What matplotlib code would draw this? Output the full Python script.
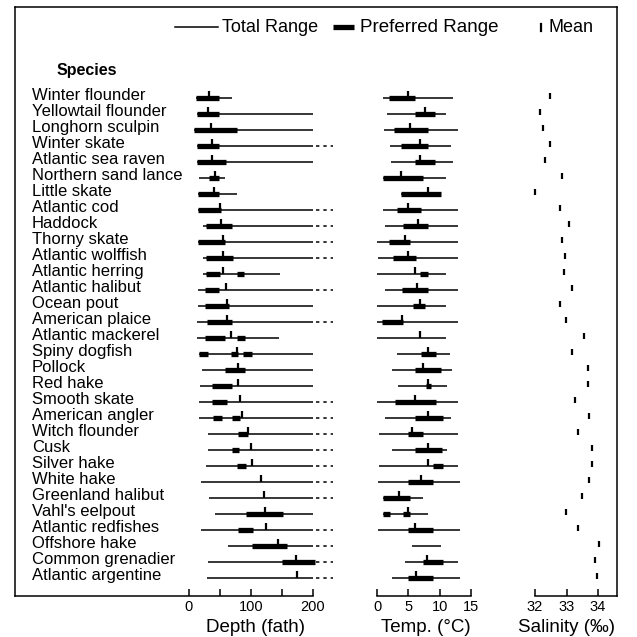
import matplotlib
matplotlib.use('Agg')
import matplotlib.pyplot as plt
import numpy as np
from matplotlib.transforms import blended_transform_factory
from matplotlib.lines import Line2D

plt.rcParams['font.family'] = ['Liberation Sans', 'DejaVu Sans']

# ---------------- data ----------------
species = ["Winter flounder", "Yellowtail flounder", "Longhorn sculpin", "Winter skate",
           "Atlantic sea raven", "Northern sand lance", "Little skate", "Atlantic cod",
           "Haddock", "Thorny skate", "Atlantic wolffish", "Atlantic herring",
           "Atlantic halibut", "Ocean pout", "American plaice", "Atlantic mackerel",
           "Spiny dogfish", "Pollock", "Red hake", "Smooth skate", "American angler",
           "Witch flounder", "Cusk", "Silver hake", "White hake", "Greenland halibut",
           "Vahl's eelpout", "Atlantic redfishes", "Offshore hake", "Common grenadier",
           "Atlantic argentine"]

# Depth (fathoms)
depth_min = [11, 13, 8, 13, 13, 16, 14, 14, 23, 14, 23, 23, 14, 14, 13, 13,
             16, 21, 18, 16, 16, 31, 31, 27, 19, 32, 42, 19, 63, 31, 29]
depth_max = [69, 200, 200, 200, 200, 58, 77, 200, 200, 200, 200, 147, 200, 200, 200, 145,
             200, 200, 200, 200, 200, 200, 200, 200, 200, 200, 200, 200, 200, 200, 200]
depth_beyond = [0, 0, 0, 1, 0, 0, 0, 1, 1, 1, 1, 0, 1, 0, 1, 0,
                0, 0, 0, 1, 1, 1, 1, 1, 1, 1, 0, 1, 1, 1, 1]
depth_mean = [32, 31, 35, 37, 37, 42, 40, 50, 51, 55, 55, 55, 60, 61, 61, 68,
              77, 79, 79, 82, 85, 95, 100, 102, 116, 121, 123, 124, 143, 172, 174]
depth_pref = [[(11, 48)], [(13, 48)], [(8, 78)], [(13, 48)], [(13, 60)], [(32, 48)],
              [(14, 48)], [(14, 51)], [(27, 70)], [(14, 58)], [(27, 71)],
              [(27, 50), (77, 89)], [(26, 48)], [(26, 65)], [(29, 69)],
              [(26, 58), (77, 90)], [(16, 31), (68, 79), (87, 101)], [(58, 90)],
              [(37, 69)], [(37, 61)], [(39, 53), (69, 82)], [(79, 95)], [(69, 81)],
              [(77, 92)], [], [], [(92, 152)], [(79, 103)], [(101, 158)],
              [(150, 203)], []]

# Temperature (deg C)
temp_min = [1.0, 1.6, 1.1, 2.1, 2.2, 1.0, 3.9, 1.0, 1.3, 0.0, 0.2, 0.0, 1.3, 0.0, 0.0, 0.0,
            3.2, 2.4, 3.4, 0.0, 1.3, 0.3, 2.4, 0.3, 0.2, 1.0, 1.0, 0.2, 5.6, 4.5, 2.4]
temp_max = [12.1, 11.0, 12.9, 11.8, 12.2, 11.0, 10.2, 13.0, 12.9, 12.9, 12.9, 11.0, 13.0,
            11.0, 12.9, 11.0, 11.6, 11.9, 11.1, 13.0, 11.8, 13.0, 11.1, 13.0, 13.2, 7.3,
            8.2, 13.2, 10.2, 13.0, 13.2]
temp_mean = [5.0, 7.6, 5.3, 6.8, 6.9, 3.9, 8.1, 5.0, 6.5, 4.4, 5.0, 6.1, 6.4, 6.8, 4.0, 6.8,
             8.2, 7.4, 8.2, 6.0, 8.2, 5.6, 8.2, 8.2, 7.1, 3.5, 5.0, 6.1, np.nan, 8.0, 6.3]
temp_pref = [[(1.9, 6.1)], [(6.1, 9.2)], [(2.7, 8.2)], [(3.9, 8.2)], [(6.0, 9.2)],
             [(1.0, 7.3)], [(3.9, 10.2)], [(3.2, 7.1)], [(4.2, 8.2)], [(1.9, 5.3)],
             [(2.6, 6.3)], [(6.9, 8.1)], [(4.0, 8.2)], [(5.8, 7.7)], [(0.8, 4.2)], [],
             [(7.1, 9.4)], [(6.1, 10.2)], [(7.8, 8.6)], [(2.9, 9.4)], [(6.1, 10.5)],
             [(5.0, 7.4)], [(6.0, 10.3)], [(9.0, 10.5)], [(5.0, 9.0)], [(1.0, 5.2)],
             [(1.0, 2.1), (4.2, 5.2)], [(5.0, 9.0)], [], [(7.3, 10.5)], [(5.0, 8.9)]]

# Salinity (per mille)
sal_mean = [32.48, 32.16, 32.25, 32.48, 32.32, 32.86, 32.0, 32.79, 33.08, 32.86, 32.95,
            32.92, 33.17, 32.79, 32.98, 33.56, 33.18, 33.67, 33.67, 33.27, 33.70, 33.37,
            33.81, 33.81, 33.70, 33.49, 32.98, 33.37, 34.03, 33.92, 33.98]

depth_ticks = [0, 100, 200]
depth_minor = [50, 150]
temp_ticks = [0, 5, 10, 15]
sal_ticks = [32, 33, 34]

# ---------------- layout ----------------
W = H = 637
fig = plt.figure(figsize=(6.37, 6.37), dpi=100)

def fx(x):
    return x / W

def fy(y):
    return 1 - y / H

Y_TOP, Y_BOT = 80, 596
rows = np.arange(len(species))
YLIM = ((Y_BOT - 98) / 16.0, (Y_TOP - 98) / 16.0)

def add_ax(x0, x1, xlim, bounds):
    ax = fig.add_axes([fx(x0), fy(Y_BOT), (x1 - x0) / W, (Y_BOT - Y_TOP) / H])
    ax.set_xlim(*xlim)
    ax.set_ylim(*YLIM)
    ax.patch.set_alpha(0)
    for s in ['top', 'left', 'right']:
        ax.spines[s].set_visible(False)
    ax.spines['bottom'].set_bounds(*bounds)
    ax.spines['bottom'].set_linewidth(1.1)
    ax.set_yticks([])
    ax.tick_params(axis='x', direction='in', length=5, width=1.1, pad=3,
                   labelsize=10.5)
    ax.tick_params(axis='x', which='minor', direction='in', length=5, width=1.1)
    return ax

ax_d = add_ax(15, 345, ((15 - 189) / 0.62, (345 - 189) / 0.62), ((15 - 189) / 0.62, 200))
ax_t = add_ax(377, 471, (0, 15), (0, 15))
ax_s = add_ax(535, 617, (32, 32 + 82 / 31.5), (32, 32 + 82 / 31.5))

ax_d.set_xticks(depth_ticks)
ax_d.set_xticks(depth_minor, minor=True)
ax_t.set_xticks(temp_ticks)
ax_s.set_xticks(sal_ticks)

THIN = 1.1
THICK = 3.8
TICK_H = 0.45

def draw_panel(ax, mins, maxs, means, prefs, beyond=None):
    ax.hlines(rows, mins, maxs, color='black', lw=THIN, clip_on=False)
    for i, segs in enumerate(prefs):
        for a, b in segs:
            ax.hlines(i, a, b, color='black', lw=THICK, clip_on=False)
    ax.vlines(means, rows - TICK_H, rows, color='black', lw=1.6, clip_on=False)
    if beyond is not None:
        for i, flag in enumerate(beyond):
            if flag:
                ax.hlines(i, 205, 233, color='black', lw=THIN,
                          linestyles=(0, (2.2, 2.6)), clip_on=False)

draw_panel(ax_d, depth_min, depth_max, depth_mean, depth_pref, depth_beyond)
draw_panel(ax_t, temp_min, temp_max, temp_mean, temp_pref)
ax_s.vlines(sal_mean, rows - 0.3, rows + 0.06, color='black', lw=1.6, clip_on=False)

# species labels
tr = blended_transform_factory(fig.transFigure, ax_d.transData)
for i, name in enumerate(species):
    ax_d.text(fx(32), i - 0.14, name, transform=tr, ha='left', va='center',
              fontsize=12, clip_on=False)
fig.text(fx(57), fy(70), "Species", ha='left', va='center', fontsize=11.5,
         fontweight='bold')

# axis labels
fig.text(fx(255), fy(628), "Depth (fath)", ha='center', va='center', fontsize=13.5)
fig.text(fx(426), fy(628), "Temp. (°C)", ha='center', va='center', fontsize=13.5)
fig.text(fx(567), fy(628), "Salinity (‰)", ha='center', va='center', fontsize=13.5)

# frame
for (x0, y0, x1, y1) in [(15, 7, 617, 7), (15, 7, 15, 596), (617, 7, 617, 596)]:
    fig.add_artist(Line2D([fx(x0), fx(x1)], [fy(y0), fy(y1)], color='black', lw=1.1))

# legend
LY = 27
fig.add_artist(Line2D([fx(175), fx(218)], [fy(LY), fy(LY)], color='black', lw=THIN))
fig.text(fx(222), fy(LY), "Total Range", ha='left', va='center', fontsize=13)
fig.add_artist(Line2D([fx(333), fx(354)], [fy(LY), fy(LY)], color='black', lw=THICK,
                      solid_capstyle='butt'))
fig.text(fx(360), fy(LY), "Preferred Range", ha='left', va='center', fontsize=13.5)
fig.add_artist(Line2D([fx(541), fx(541)], [fy(LY - 3), fy(LY + 4)], color='black', lw=1.6))
fig.text(fx(549), fy(LY), "Mean", ha='left', va='center', fontsize=13)

fig.savefig('out.png', dpi=100)
